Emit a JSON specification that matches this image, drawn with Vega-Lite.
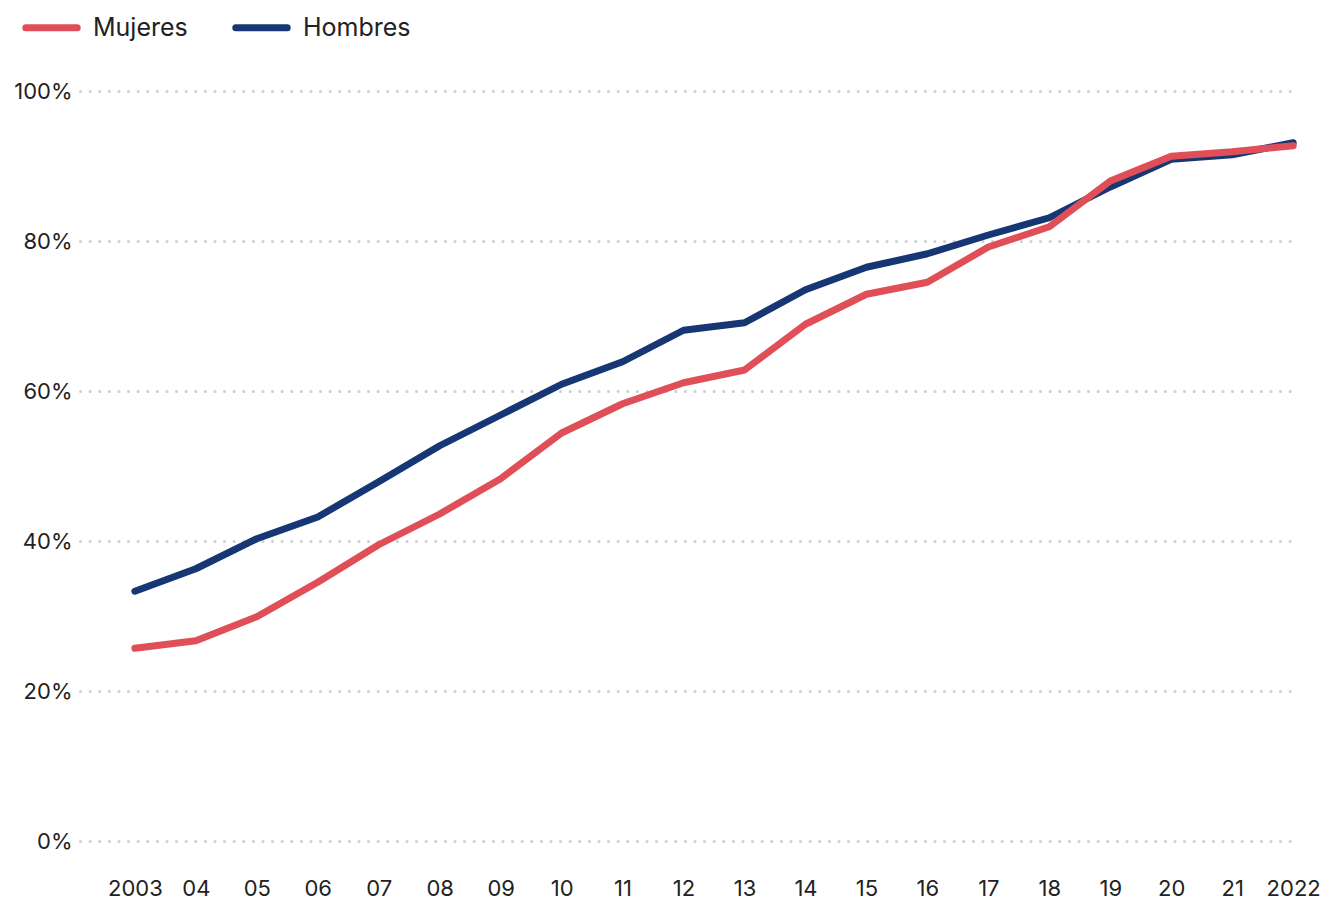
{
  "$schema": "https://vega.github.io/schema/vega-lite/v6.json",
  "width": 1215,
  "height": 750,
  "autosize": {"type": "none"},
  "padding": {"left": 80, "top": 91, "right": 27, "bottom": 59},
  "background": "white",
  "config": {
    "view": {"stroke": null},
    "font": "Inter",
    "axis": {"labelFont": "Inter", "labelColor": "#222222", "labelFontSize": 22, "labelFontWeight": 400}
  },
  "data": {
    "values": [
      {"year": 2003, "serie": "Hombres", "valor": 33.3},
      {"year": 2004, "serie": "Hombres", "valor": 36.3},
      {"year": 2005, "serie": "Hombres", "valor": 40.3},
      {"year": 2006, "serie": "Hombres", "valor": 43.2},
      {"year": 2007, "serie": "Hombres", "valor": 47.9},
      {"year": 2008, "serie": "Hombres", "valor": 52.7},
      {"year": 2009, "serie": "Hombres", "valor": 56.8},
      {"year": 2010, "serie": "Hombres", "valor": 60.9},
      {"year": 2011, "serie": "Hombres", "valor": 63.9},
      {"year": 2012, "serie": "Hombres", "valor": 68.1},
      {"year": 2013, "serie": "Hombres", "valor": 69.1},
      {"year": 2014, "serie": "Hombres", "valor": 73.5},
      {"year": 2015, "serie": "Hombres", "valor": 76.5},
      {"year": 2016, "serie": "Hombres", "valor": 78.3},
      {"year": 2017, "serie": "Hombres", "valor": 80.8},
      {"year": 2018, "serie": "Hombres", "valor": 83.1},
      {"year": 2019, "serie": "Hombres", "valor": 87.2},
      {"year": 2020, "serie": "Hombres", "valor": 90.9},
      {"year": 2021, "serie": "Hombres", "valor": 91.5},
      {"year": 2022, "serie": "Hombres", "valor": 93.1},
      {"year": 2003, "serie": "Mujeres", "valor": 25.7},
      {"year": 2004, "serie": "Mujeres", "valor": 26.7},
      {"year": 2005, "serie": "Mujeres", "valor": 29.9},
      {"year": 2006, "serie": "Mujeres", "valor": 34.5},
      {"year": 2007, "serie": "Mujeres", "valor": 39.5},
      {"year": 2008, "serie": "Mujeres", "valor": 43.6},
      {"year": 2009, "serie": "Mujeres", "valor": 48.3},
      {"year": 2010, "serie": "Mujeres", "valor": 54.4},
      {"year": 2011, "serie": "Mujeres", "valor": 58.3},
      {"year": 2012, "serie": "Mujeres", "valor": 61.1},
      {"year": 2013, "serie": "Mujeres", "valor": 62.8},
      {"year": 2014, "serie": "Mujeres", "valor": 68.9},
      {"year": 2015, "serie": "Mujeres", "valor": 72.9},
      {"year": 2016, "serie": "Mujeres", "valor": 74.5},
      {"year": 2017, "serie": "Mujeres", "valor": 79.2},
      {"year": 2018, "serie": "Mujeres", "valor": 81.9},
      {"year": 2019, "serie": "Mujeres", "valor": 88.0},
      {"year": 2020, "serie": "Mujeres", "valor": 91.3},
      {"year": 2021, "serie": "Mujeres", "valor": 91.9},
      {"year": 2022, "serie": "Mujeres", "valor": 92.7}
    ]
  },
  "encoding": {
    "x": {
      "field": "year", "type": "quantitative",
      "scale": {"domain": [2002.1, 2022.03], "nice": false, "zero": false},
      "axis": {
        "title": null, "grid": false, "domain": false, "ticks": false,
        "values": [2003,2004,2005,2006,2007,2008,2009,2010,2011,2012,2013,2014,2015,2016,2017,2018,2019,2020,2021,2022],
        "labelExpr": "datum.value == 2003 || datum.value == 2022 ? format(datum.value, 'd') : slice(format(datum.value, 'd'), 2)",
        "labelPadding": 37, "labelFlush": false, "labelOverlap": false
      }
    },
    "y": {
      "field": "valor", "type": "quantitative",
      "scale": {"domain": [0, 100], "nice": false},
      "axis": {
        "title": null, "domain": false, "ticks": false,
        "values": [0, 20, 40, 60, 80, 100],
        "labelExpr": "datum.value + '%'",
        "labelPadding": 8,
        "grid": true, "gridColor": "#cfcfcf", "gridWidth": 3, "gridDash": [0.1, 9.5], "gridCap": "round"
      }
    },
    "color": {
      "field": "serie", "type": "nominal",
      "scale": {"domain": ["Mujeres", "Hombres"], "range": ["#E04F57", "#173774"]},
      "legend": {
        "title": null, "orient": "none", "direction": "horizontal",
        "legendX": -58, "legendY": -93,
        "symbolType": "stroke", "symbolSize": 2650, "symbolStrokeWidth": 7,
        "labelFontSize": 25, "labelFont": "Inter", "labelColor": "#222222", "labelFontWeight": 400,
        "labelOffset": 12, "columnPadding": 33,
        "encode": {"symbols": {"update": {"strokeCap": {"value": "round"}}}}
      }
    }
  },
  "layer": [
    {
      "transform": [{"filter": "datum.serie == 'Hombres'"}],
      "mark": {"type": "line", "strokeWidth": 7, "strokeCap": "round", "strokeJoin": "round"}
    },
    {
      "transform": [{"filter": "datum.serie == 'Mujeres'"}],
      "mark": {"type": "line", "strokeWidth": 7, "strokeCap": "round", "strokeJoin": "round"}
    }
  ]
}
